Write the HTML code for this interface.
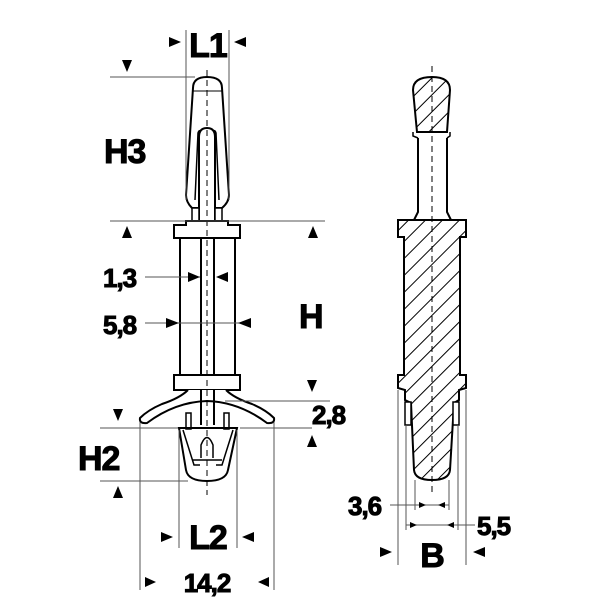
<!DOCTYPE html>
<html><head><style>html,body{margin:0;padding:0;background:#fff}svg{display:block}
text{font-family:"Liberation Sans",Arial,sans-serif;font-weight:bold;fill:#000;stroke:#000;stroke-width:1;letter-spacing:-1px}</style></head>
<body>
<svg width="600" height="600" viewBox="0 0 600 600" xmlns="http://www.w3.org/2000/svg">
<defs>
<pattern id="h" patternUnits="userSpaceOnUse" width="12" height="12" patternTransform="rotate(45)">
<line x1="0" y1="0" x2="0" y2="12" stroke="#000" stroke-width="2"/>
</pattern>
</defs>
<g fill="none" stroke="#000" stroke-width="2">
<path d="M193,88 Q193,77 207,77 Q222,77 222,88 L229,195 Q229,202 222,208 L192,208 Q186,202 186,195 Z" fill="#fff"/>
<line x1="193" y1="91" x2="222" y2="91" stroke-width="1"/>
<path d="M195,200 L198,133 Q200,127 203,136" stroke-width="1.5"/>
<path d="M219,200 L216,133 Q214,127 211,136" stroke-width="1.5"/>
<path d="M199,220 L199,137 Q199,128 207,128 Q215,128 215,137 L215,220" fill="#fff"/>
<rect x="192" y="208" width="7" height="13" fill="#fff" stroke-width="1.5"/>
<rect x="215" y="208" width="7" height="13" fill="#fff" stroke-width="1.5"/>
<path d="M186,221 L228,221 L228,225 L240,225 L240,238 L174,238 L174,225 L186,225 Z" fill="#fff"/>
<rect x="180" y="238" width="55" height="137" fill="#fff"/>
<line x1="201" y1="238" x2="201" y2="375"/>
<line x1="214" y1="238" x2="214" y2="375"/>
<rect x="174" y="375" width="66" height="15" fill="#fff"/>
<path d="M188,390 Q180,398 162,404 Q148,410 140,418 Q139,424 147,423 Q175,402 207,401 Q239,402 267,423 Q275,424 274,418 Q266,410 252,404 Q234,398 226,390" fill="#fff"/>
<line x1="201" y1="390" x2="201" y2="425"/>
<line x1="214" y1="390" x2="214" y2="425"/>
<path d="M179,428 L237,428 L228,470 Q226,481 207,481 Q188,481 186,470 Z" fill="#fff"/>
<path d="M183,430 L194,465 L200,465" stroke-width="1.5"/>
<path d="M233,430 L222,465 L216,465" stroke-width="1.5"/>
<path d="M201,458 L201,445 Q207,430 213,445 L213,458" stroke-width="1.5"/>
<path d="M192,460 L222,460" stroke-width="1.5"/>
<rect x="186" y="413" width="5" height="16" stroke-width="1.5"/>
<rect x="224" y="413" width="5" height="16" stroke-width="1.5"/>
<!-- RIGHT PART -->
<path d="M413,90 Q413,77 432,77 Q450,77 450,90 L447,132 L417,132 Z" fill="url(#h)"/>
<path d="M413,132 L413,136 L418,138 M450,132 L450,136 L447,138" stroke-width="1.5"/>
<path d="M418,138 L418,212 L414,220 M447,138 L447,212 L451,220"/>
<path d="M398,220 L466,220 L466,237 L460,237 L460,375 L466,375 L466,388 L459,390 L459,400 L454,403 L450,470 Q449,480 432,480 Q415,480 414,470 L411,403 L405,400 L405,390 L398,388 L398,375 L404,375 L404,237 L398,237 Z" fill="url(#h)"/>
<rect x="405" y="402" width="6" height="23" fill="#fff" stroke-width="1.5"/>
<rect x="453" y="402" width="6" height="23" fill="#fff" stroke-width="1.5"/>
</g>
<g stroke="#000" stroke-width="1" stroke-dasharray="6,4">
<line x1="207" y1="70" x2="207" y2="495"/>
<line x1="432" y1="66" x2="432" y2="495"/>
</g>
<g stroke="#555" stroke-width="1">
<line x1="186" y1="30" x2="186" y2="200"/>
<line x1="229" y1="30" x2="229" y2="200"/>
<line x1="110" y1="77" x2="195" y2="77"/>
<line x1="110" y1="221" x2="325" y2="221"/>
<line x1="145" y1="277" x2="200" y2="277"/>
<line x1="145" y1="323" x2="245" y2="323"/>
<line x1="225" y1="401" x2="330" y2="401"/>
<line x1="240" y1="428" x2="312" y2="428"/>
<line x1="100" y1="428" x2="178" y2="428"/>
<line x1="100" y1="481" x2="188" y2="481"/>
<line x1="179" y1="430" x2="179" y2="548"/>
<line x1="237" y1="430" x2="237" y2="548"/>
<line x1="140" y1="422" x2="140" y2="590"/>
<line x1="274" y1="422" x2="274" y2="590"/>
<line x1="398" y1="390" x2="398" y2="565"/>
<line x1="466" y1="390" x2="466" y2="565"/>
<line x1="406" y1="425" x2="406" y2="530"/>
<line x1="458" y1="425" x2="458" y2="530"/>
<line x1="415" y1="480" x2="415" y2="510"/>
<line x1="449" y1="480" x2="449" y2="510"/>
<line x1="390" y1="505" x2="449" y2="505"/>
<line x1="406" y1="525" x2="475" y2="525"/>
</g>
<g fill="#000">
<polygon points="169,37 181,42 169,47"/>
<polygon points="246,37 234,42 246,47"/>
<polygon points="122,60 132,60 127,72"/>
<polygon points="122,238 132,238 127,226"/>
<polygon points="308,238 318,238 313,226"/>
<polygon points="188,272 200,277 188,282"/>
<polygon points="228,272 216,277 228,282"/>
<polygon points="166,318 179,323 166,328"/>
<polygon points="251,318 238,323 251,328"/>
<polygon points="307,380 317,380 312,392"/>
<polygon points="307,447 317,447 312,435"/>
<polygon points="113,409 123,409 118,421"/>
<polygon points="113,498 123,498 118,486"/>
<polygon points="161,532 173,537 161,542"/>
<polygon points="254,532 242,537 254,542"/>
<polygon points="145,577 156,582 145,587"/>
<polygon points="269,577 258,582 269,587"/>
<polygon points="380,547 392,552 380,557"/>
<polygon points="485,547 473,552 485,557"/>
<polygon points="419,502 426,505 419,508"/>
<polygon points="445,502 438,505 445,508"/>
<polygon points="410,522 417,525 410,528"/>
<polygon points="454,522 447,525 454,528"/>
</g>
<text x="208" y="57" font-size="34" text-anchor="middle">L1</text>
<text x="104" y="163" font-size="34">H3</text>
<text x="103" y="287" font-size="26">1,3</text>
<text x="103" y="334" font-size="26">5,8</text>
<text x="299" y="328" font-size="34">H</text>
<text x="312" y="424" font-size="26">2,8</text>
<text x="78" y="470" font-size="34">H2</text>
<text x="208" y="549" font-size="34" text-anchor="middle">L2</text>
<text x="207" y="592" font-size="26" text-anchor="middle">14,2</text>
<text x="348" y="515" font-size="26">3,6</text>
<text x="477" y="535" font-size="26">5,5</text>
<text x="432" y="567" font-size="34" text-anchor="middle">B</text>
</svg>
</body></html>
